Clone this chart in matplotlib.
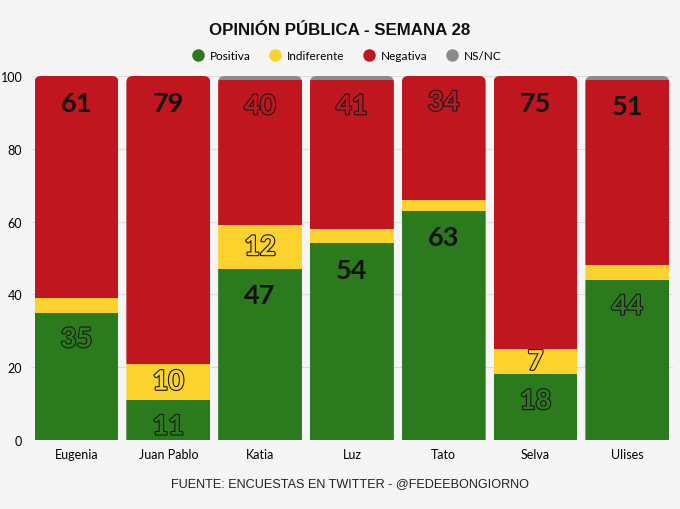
import matplotlib
matplotlib.use("Agg")
import matplotlib.pyplot as plt
import matplotlib.patheffects as pe
from matplotlib.lines import Line2D
from matplotlib.patches import FancyBboxPatch
import numpy as np

categories = ["Eugenia", "Juan Pablo", "Katia", "Luz", "Tato", "Selva", "Ulises"]
positiva = [35, 11, 47, 54, 63, 18, 44]
indiferente = [4, 10, 12, 4, 3, 7, 4]
negativa = [61, 79, 40, 41, 34, 75, 51]
nsnc = [0, 0, 1, 1, 0, 0, 1]
yticks = [0, 20, 40, 60, 80, 100]

# which labels are drawn as outlined text (series, index)
outlined = {("pos", 0), ("pos", 1), ("pos", 5), ("pos", 6),
            ("ind", 1), ("ind", 2), ("ind", 5),
            ("neg", 2), ("neg", 3), ("neg", 4)}

C_POS = "#2b7a1e"
C_IND = "#fbd22e"
C_NEG = "#c0161f"
C_NS = "#8a8a8a"
BG = "#f5f5f5"
FONT = ["Lato", "DejaVu Sans"]

fig = plt.figure(figsize=(6.8, 5.1), dpi=100, facecolor=BG)
ax = fig.add_axes([0.045, 0.1353, 0.945, 0.7137], facecolor=BG)

x = np.arange(len(categories))
w = 0.914
pos = np.array(positiva)
ind = np.array(indiferente)
neg = np.array(negativa)
ns = np.array(nsnc)

b1 = ax.bar(x, pos, w, color=C_POS, zorder=2)
b2 = ax.bar(x, ind, w, bottom=pos, color=C_IND, zorder=2)
b3 = ax.bar(x, neg, w, bottom=pos + ind, color=C_NEG, zorder=2)
b4 = ax.bar(x, ns, w, bottom=pos + ind + neg, color=C_NS, zorder=2)

ax.set_xlim(-0.5, len(categories) - 0.5)
ax.set_ylim(0, 100)

# rounded top corners via clip paths
rx = 0.07
for i in range(len(categories)):
    clip = FancyBboxPatch((x[i] - w / 2, -20), w, 120,
                          boxstyle=f"round,pad=0,rounding_size={rx}",
                          mutation_aspect=25.0, transform=ax.transData,
                          facecolor="none", edgecolor="none")
    ax.add_patch(clip)
    for bars in (b1, b2, b3, b4):
        bars[i].set_clip_path(clip)

ax.set_yticks(yticks)
ax.set_yticklabels([str(t) for t in yticks], fontsize=9, family=FONT)
ax.set_xticks(x)
ax.set_xticklabels(categories, fontsize=9, family=FONT)
ax.tick_params(length=0, pad=6)
ax.grid(axis="y", color="#dcdcdc", lw=0.8, zorder=0)
for s in ax.spines.values():
    s.set_visible(False)

def label(xi, y, val, fill, is_out):
    if is_out:
        t = ax.text(xi, y, str(val), ha="center", va="center", fontsize=19.5,
                    fontweight="bold", color=fill, family=FONT, zorder=5)
        t.set_path_effects([pe.Stroke(linewidth=1.6, foreground="#1a1a1a"), pe.Normal()])
    else:
        ax.text(xi, y, str(val), ha="center", va="center", fontsize=19.5,
                fontweight="bold", color="#111111", family=FONT, zorder=5)

for i in range(len(categories)):
    label(x[i], pos[i] - 7.3, pos[i], C_POS, ("pos", i) in outlined)
    if ind[i] >= 7:
        label(x[i], pos[i] + ind[i] / 2, ind[i], C_IND, ("ind", i) in outlined)
    label(x[i], pos[i] + ind[i] + neg[i] - 7.3, neg[i], C_NEG, ("neg", i) in outlined)

fig.text(0.5, 0.941, "OPINIÓN PÚBLICA - SEMANA 28", ha="center", va="center",
         fontsize=12.2, fontweight="bold", family=["Liberation Sans", "DejaVu Sans"], color="#111111")

handles = [Line2D([], [], marker="o", ls="", ms=8, color=c) for c in [C_POS, C_IND, C_NEG, C_NS]]
leg = fig.legend(handles, ["Positiva", "Indiferente", "Negativa", "NS/NC"], loc="center",
                 bbox_to_anchor=(0.51, 0.889), ncol=4, frameon=False,
                 handletextpad=0.5, columnspacing=1.6, handlelength=1.0,
                 prop={"family": FONT, "size": 8.5})

fig.text(0.514, 0.051, "FUENTE: ENCUESTAS EN TWITTER - @FEDEEBONGIORNO", ha="center", va="center",
         fontsize=9.1, family=["Liberation Sans", "DejaVu Sans"], color="#222222")

fig.savefig("out.png", dpi=100, facecolor=BG)
